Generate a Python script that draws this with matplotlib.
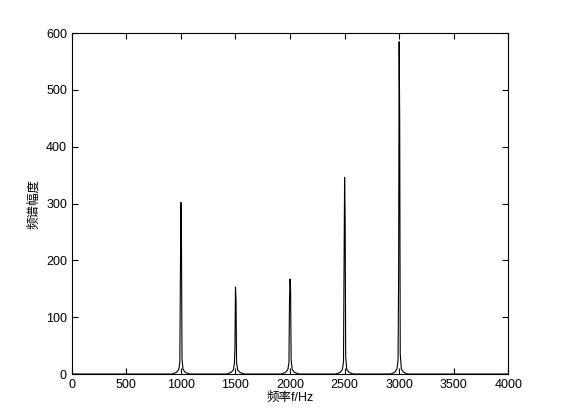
import numpy as np
import matplotlib
matplotlib.use('Agg')
import matplotlib.pyplot as plt

plt.rcParams['font.family'] = ['Liberation Sans', 'Noto Sans CJK SC', 'DejaVu Sans']

# 峰附近的采样点 (频率偏移, Hz)
offsets = [-40, -20, -10, -5, 0, 5, 10, 20, 40]
peak_freqs = [1000, 1500, 2000, 2500, 3000]
amp_1000 = [3, 8, 20, 170, 302, 232, 25, 8, 3]
amp_1500 = [3, 7, 18, 46, 153, 130, 20, 7, 3]
amp_2000 = [3, 8, 20, 127, 167, 150, 25, 8, 3]
amp_2500 = [3, 8, 22, 187, 346, 277, 30, 8, 3]
amp_3000 = [3, 9, 25, 171, 585, 447, 35, 9, 3]
peak_amps = [amp_1000, amp_1500, amp_2000, amp_2500, amp_3000]

freq = [0.0]
amp = [0.0]
for pf, pa in zip(peak_freqs, peak_amps):
    freq += [pf - 80, *[pf + o for o in offsets], pf + 80]
    amp += [0.0, *pa, 0.0]
freq += [4000.0]
amp += [0.0]

fig = plt.figure(figsize=(5.61, 4.2), dpi=100)
ax = fig.add_axes([0.128, 0.1095, 0.778, 0.8115])
ax.plot(freq, amp, color='k', linewidth=0.8)
ax.set_xlim(0, 4000)
ax.set_ylim(0, 600)
ax.set_xticks(np.arange(0, 4001, 500))
ax.set_yticks(np.arange(0, 601, 100))
ax.tick_params(direction='in', top=True, right=True, labelsize=9, length=4)
ax.set_xlabel('频率f/Hz', fontsize=9, labelpad=1)
ax.set_ylabel('频谱幅度', fontsize=9, labelpad=4)

fig.savefig('out.png', dpi=100)
